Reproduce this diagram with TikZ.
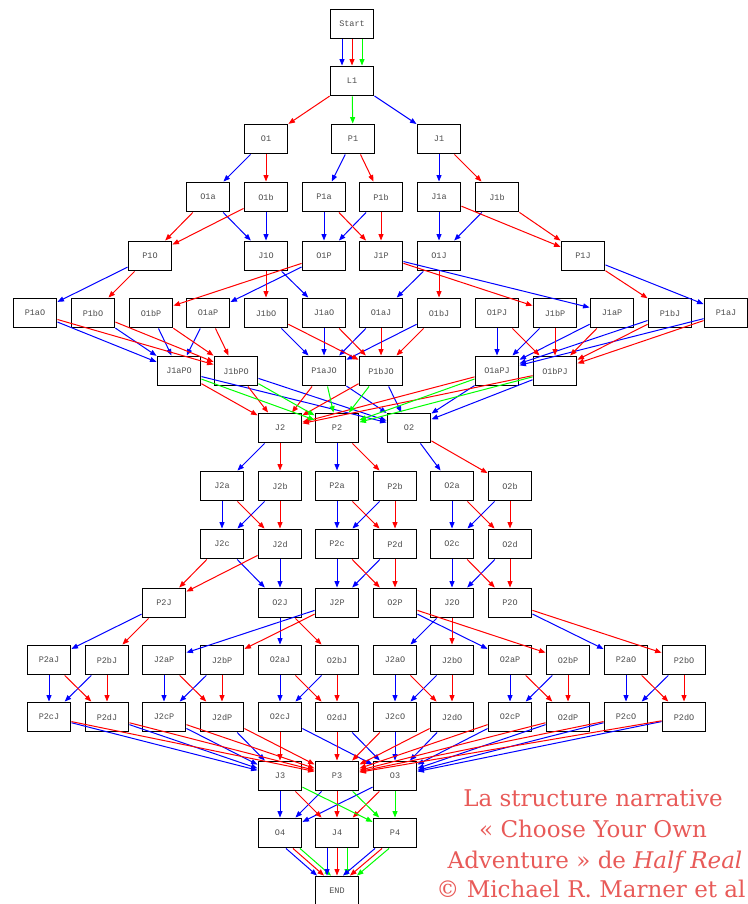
\documentclass[tikz,border=0pt]{standalone}
\usepackage{fontspec}
\setmainfont{DejaVu Serif}
\newfontfamily\boxfont{Liberation Mono}
\usetikzlibrary{arrows.meta}
\definecolor{capred}{RGB}{232,90,88}
\begin{document}
\begin{tikzpicture}[x=1pt,y=-1pt,
 bx/.style={draw=black, line width=1.9pt, minimum width=43pt, minimum height=29pt, inner sep=0pt, font=\boxfont\fontsize{8.5}{8.5}\selectfont, text=black!70},
 edgebase/.style={line width=1pt, -{Triangle[length=6.5pt,width=5pt]}},
 eb/.style={edgebase, draw=blue}, er/.style={edgebase, draw=red}, eg/.style={edgebase, draw=green},
 captext/.style={text=capred, font=\fontsize{23}{23}\selectfont, anchor=base, inner sep=0pt}
]
\useasboundingbox (0,0) rectangle (747,904);
% nodes
\node[bx] (Start) at (352,24) {Start};
\node[bx] (L1) at (352,81) {L1};
\foreach \n/\x in {O1/266,P1/353,J1/439} \node[bx] (\n) at (\x,139) {\n};
\foreach \n/\x in {O1a/208,O1b/266,P1a/324,P1b/381,J1a/439,J1b/497} \node[bx] (\n) at (\x,197) {\n};
\foreach \n/\x in {P1O/150,J1O/266,O1P/324,J1P/381,O1J/439,P1J/583} \node[bx] (\n) at (\x,256) {\n};
\foreach \n/\x in {P1aO/35,P1bO/93,O1bP/151,O1aP/208,J1bO/266,J1aO/324,O1aJ/381,O1bJ/439,O1PJ/497,J1bP/555,J1aP/612,P1bJ/670,P1aJ/726} \node[bx] (\n) at (\x,313) {\n};
\foreach \n/\x in {J1aPO/179,J1bPO/236,P1aJO/324,P1bJO/381,O1aPJ/497,O1bPJ/555} \node[bx] (\n) at (\x,371) {\n};
\foreach \n/\x in {J2/280,P2/337,O2/409} \node[bx] (\n) at (\x,428) {\n};
\foreach \n/\x in {J2a/222,J2b/280,P2a/337,P2b/395,O2a/452,O2b/510} \node[bx] (\n) at (\x,486) {\n};
\foreach \n/\x in {J2c/222,J2d/280,P2c/337,P2d/395,O2c/452,O2d/510} \node[bx] (\n) at (\x,544) {\n};
\foreach \n/\x in {P2J/164,O2J/280,J2P/337,O2P/395,J2O/452,P2O/510} \node[bx] (\n) at (\x,603) {\n};
\foreach \n/\x in {P2aJ/49,P2bJ/107,J2aP/164,J2bP/222,O2aJ/280,O2bJ/337,J2aO/395,J2bO/452,O2aP/510,O2bP/568,P2aO/626,P2bO/684} \node[bx] (\n) at (\x,660) {\n};
\foreach \n/\x in {P2cJ/49,P2dJ/107,J2cP/164,J2dP/222,O2cJ/280,O2dJ/337,J2cO/395,J2dO/452,O2cP/510,O2dP/568,P2cO/626,P2dO/684} \node[bx] (\n) at (\x,717) {\n};
\foreach \n/\x in {J3/280,P3/337,O3/395} \node[bx] (\n) at (\x,776) {\n};
\foreach \n/\x in {O4/280,J4/337,P4/395} \node[bx] (\n) at (\x,833) {\n};
\node[bx] (END) at (337,891) {END};
% start edges
\draw[eb] ([xshift=-10pt]Start.south) -- ([xshift=-10pt]L1.north);
\draw[er] (Start.south) -- (L1.north);
\draw[eg] ([xshift=10pt]Start.south) -- ([xshift=10pt]L1.north);
\draw[er] (L1) -- (O1); \draw[eg] (L1) -- (P1); \draw[eb] (L1) -- (J1);
% blue edges
\foreach \a/\b in {O1/O1a,P1/P1a,J1/J1a,O1a/J1O,O1b/J1O,P1a/O1P,P1b/O1P,J1a/O1J,J1b/O1J,
  P1O/P1aO,J1O/J1aO,O1P/O1aP,J1P/J1aP,O1J/O1aJ,P1J/P1aJ,
  P1aO/J1aPO,P1bO/J1aPO,O1bP/J1aPO,O1aP/J1aPO,J1bO/P1aJO,J1aO/P1aJO,O1aJ/P1aJO,O1bJ/P1aJO,
  O1PJ/O1aPJ,J1bP/O1aPJ,J1aP/O1aPJ,P1bJ/O1aPJ,P1aJ/O1aPJ,
  J1aPO/O2,J1bPO/O2,P1aJO/O2,P1bJO/O2,O1aPJ/O2,O1bPJ/O2,
  J2/J2a,P2/P2a,O2/O2a,J2a/J2c,J2b/J2c,P2a/P2c,P2b/P2c,O2a/O2c,O2b/O2c,
  J2c/O2J,J2d/O2J,P2c/J2P,P2d/J2P,O2c/J2O,O2d/J2O,
  P2J/P2aJ,O2J/O2aJ,J2P/J2aP,O2P/O2aP,J2O/J2aO,P2O/P2aO,
  P2aJ/P2cJ,P2bJ/P2cJ,J2aP/J2cP,J2bP/J2cP,O2aJ/O2cJ,O2bJ/O2cJ,J2aO/J2cO,J2bO/J2cO,O2aP/O2cP,O2bP/O2cP,P2aO/P2cO,P2bO/P2cO,
  P2cJ/J3,P2dJ/J3,J2cP/J3,J2dP/J3,O2cJ/O3,O2dJ/O3,J2cO/O3,J2dO/O3,O2cP/O3,O2dP/O3,P2cO/O3,P2dO/O3,
  J3/O4,P3/O4,O3/O4}
  \draw[eb] (\a) -- (\b);
% red edges
\foreach \a/\b in {O1/O1b,P1/P1b,J1/J1b,O1a/P1O,O1b/P1O,P1a/J1P,P1b/J1P,J1a/P1J,J1b/P1J,
  P1O/P1bO,J1O/J1bO,O1P/O1bP,J1P/J1bP,O1J/O1bJ,P1J/P1bJ,
  P1aO/J1bPO,P1bO/J1bPO,O1bP/J1bPO,O1aP/J1bPO,J1bO/P1bJO,J1aO/P1bJO,O1aJ/P1bJO,O1bJ/P1bJO,
  O1PJ/O1bPJ,J1bP/O1bPJ,J1aP/O1bPJ,P1bJ/O1bPJ,P1aJ/O1bPJ,
  J1aPO/J2,J1bPO/J2,P1aJO/J2,P1bJO/J2,O1aPJ/J2,O1bPJ/J2,
  J2/J2b,P2/P2b,O2/O2b,J2a/J2d,J2b/J2d,P2a/P2d,P2b/P2d,O2a/O2d,O2b/O2d,
  J2c/P2J,J2d/P2J,P2c/O2P,P2d/O2P,O2c/P2O,O2d/P2O,
  P2J/P2bJ,O2J/O2bJ,J2P/J2bP,O2P/O2bP,J2O/J2bO,P2O/P2bO,
  P2aJ/P2dJ,P2bJ/P2dJ,J2aP/J2dP,J2bP/J2dP,O2aJ/O2dJ,O2bJ/O2dJ,J2aO/J2dO,J2bO/J2dO,O2aP/O2dP,O2bP/O2dP,P2aO/P2dO,P2bO/P2dO,
  P2cJ/P3,P2dJ/P3,J2cP/P3,J2dP/P3,O2cJ/J3,O2dJ/P3,J2cO/P3,J2dO/P3,O2cP/P3,O2dP/P3,P2cO/P3,P2dO/P3,
  J3/J4,P3/J4,O3/J4}
  \draw[er] (\a) -- (\b);
% green edges
\foreach \a/\b in {J1aPO/P2,J1bPO/P2,P1aJO/P2,P1bJO/P2,O1aPJ/P2,O1bPJ/P2,J3/P4,P3/P4,O3/P4}
  \draw[eg] (\a) -- (\b);
% to END
\draw[eb] ([xshift=6pt]O4.south) -- ([xshift=-20pt]END.north);
\draw[er] ([xshift=13pt]O4.south) -- ([xshift=-13pt]END.north);
\draw[eg] ([xshift=20pt]O4.south) -- ([xshift=-6pt]END.north);
\draw[eb] ([xshift=-10pt]J4.south) -- ([xshift=-10pt]END.north);
\draw[er] (J4.south) -- (END.north);
\draw[eg] ([xshift=10pt]J4.south) -- ([xshift=10pt]END.north);
\draw[eb] ([xshift=-20pt]P4.south) -- ([xshift=6pt]END.north);
\draw[er] ([xshift=-13pt]P4.south) -- ([xshift=13pt]END.north);
\draw[eg] ([xshift=-6pt]P4.south) -- ([xshift=20pt]END.north);
% caption
\node[captext] (cap1) at (593,806) {La structure narrative};
\node[captext] (cap2) at (593,837) {« Choose Your Own};
\node[captext] (cap3) at (595,868) {Adventure » de \textit{Half Real}};
\node[captext] (cap4) at (591,897) {© Michael R. Marner et al};
\end{tikzpicture}
\end{document}
